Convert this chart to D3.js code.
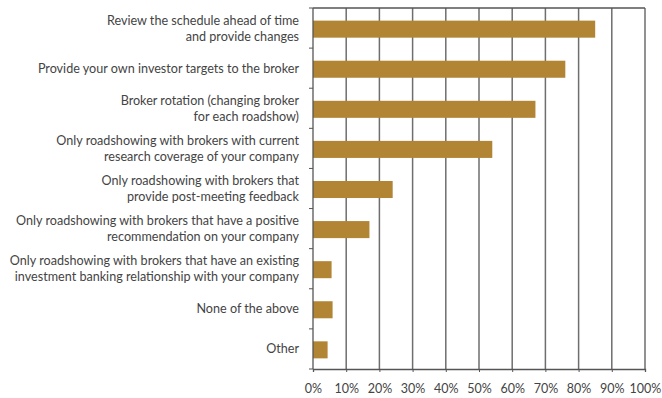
<!DOCTYPE html>
<html>
<head>
<meta charset="utf-8">
<script src="https://cdn.jsdelivr.net/npm/d3@7"></script>
<style>
  html, body { margin: 0; padding: 0; background: #fff; }
  svg { display: block; }
  text { font-family: Lato, "Open Sans", sans-serif; font-weight: 400; fill: #444; }
</style>
</head>
<body>
<svg id="chart" width="662" height="398"></svg>
<script>
// Survey responses: share of respondents choosing each roadshow practice
const categories = [
  ["Review the schedule ahead of time", "and provide changes"],
  ["Provide your own investor targets to the broker"],
  ["Broker rotation (changing broker", "for each roadshow)"],
  ["Only roadshowing with brokers with current", "research coverage of your company"],
  ["Only roadshowing with brokers that", "provide post-meeting feedback"],
  ["Only roadshowing with brokers that have a positive", "recommendation on your company"],
  ["Only roadshowing with brokers that have an existing", "investment banking relationship with your company"],
  ["None of the above"],
  ["Other"]
];
const values = [85, 76, 67, 54, 24, 17, 5.6, 5.9, 4.4];
const xTicks = [0, 10, 20, 30, 40, 50, 60, 70, 80, 90, 100];

const margin = { top: 8, right: 17, bottom: 29, left: 313 };
const width = 662, height = 398;
const svg = d3.select("#chart");

const x = d3.scaleLinear().domain([0, 100]).range([margin.left, width - margin.right]);
const y = d3.scaleBand()
  .domain(d3.range(categories.length))
  .range([margin.top, height - margin.bottom])
  .paddingInner(0.575).paddingOuter(0.29);
const band = d3.scaleBand()
  .domain(d3.range(categories.length))
  .range([margin.top, height - margin.bottom]);

// vertical gridlines
svg.append("g").selectAll("line")
  .data(xTicks.slice(1))
  .join("line")
  .attr("x1", d => x(d)).attr("x2", d => x(d))
  .attr("y1", margin.top).attr("y2", height - margin.bottom)
  .attr("stroke", "#6e6e6e").attr("stroke-width", 1.5);

// top border
svg.append("line")
  .attr("x1", x(0)).attr("x2", x(100))
  .attr("y1", margin.top).attr("y2", margin.top)
  .attr("stroke", "#555").attr("stroke-width", 1.3);

// bars
svg.append("g").selectAll("rect")
  .data(values)
  .join("rect")
  .attr("x", x(0))
  .attr("y", (d, i) => y(i) + 1)
  .attr("width", d => x(d) - x(0))
  .attr("height", y.bandwidth())
  .attr("fill", "#b28535");

// bottom axis
const xAxis = d3.axisBottom(x)
  .tickValues(xTicks)
  .tickFormat(d => d + "%")
  .tickSize(3)
  .tickPadding(12);
const gx = svg.append("g")
  .attr("transform", `translate(0,${height - margin.bottom})`)
  .call(xAxis);
gx.select(".domain").attr("stroke", "#555").attr("stroke-width", 1.3);
gx.selectAll(".tick line").attr("stroke", "#555");
gx.selectAll(".tick text")
  .attr("font-size", 12.5)
  .style("font-family", "Lato, 'Open Sans', sans-serif")
  .style("font-weight", 400)
  .attr("fill", "#444");

// left axis with ticks at band boundaries
const bounds = d3.range(categories.length + 1).map(i => margin.top + i * band.step());
svg.append("line")
  .attr("x1", x(0)).attr("x2", x(0))
  .attr("y1", margin.top).attr("y2", height - margin.bottom)
  .attr("stroke", "#555").attr("stroke-width", 1.3);
svg.append("g").selectAll("line")
  .data(bounds)
  .join("line")
  .attr("x1", x(0) - 4).attr("x2", x(0))
  .attr("y1", d => d).attr("y2", d => d)
  .attr("stroke", "#555");

// category labels
const lineH = 16;
const labels = svg.append("g").selectAll("text")
  .data(categories)
  .join("text")
  .attr("text-anchor", "end")
  .attr("font-size", 12.6)
  .attr("transform", (d, i) => `translate(299,${band(i) + band.bandwidth() / 2})`);
labels.selectAll("tspan")
  .data(d => d.map((t, k) => ({ t, k, n: d.length })))
  .join("tspan")
  .attr("x", 0)
  .attr("y", d => (d.k - (d.n - 1) / 2) * lineH)
  .attr("dy", "0.36em")
  .text(d => d.t);
</script>
</body>
</html>
